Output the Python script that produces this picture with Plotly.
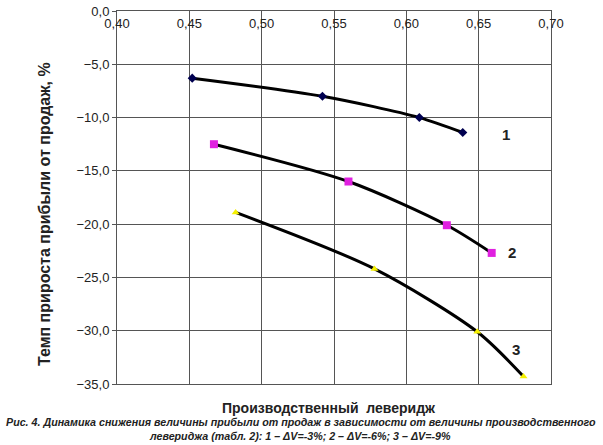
import plotly.graph_objects as go

x1 = [0.452, 0.542, 0.609, 0.639]
y1 = [-6.3, -8.0, -10.0, -11.4]
x2 = [0.467, 0.560, 0.628, 0.659]
y2 = [-12.5, -16.0, -20.1, -22.7]
x3 = [0.482, 0.578, 0.649, 0.681]
y3 = [-18.9, -24.2, -30.1, -34.3]
curve_labels = ["1", "2", "3"]
x_ticks = [0.40, 0.45, 0.50, 0.55, 0.60, 0.65, 0.70]
y_ticks = [0, -5, -10, -15, -20, -25, -30, -35]

series = [
    (x1, y1, "#000050", "diamond", 7),
    (x2, y2, "#e020e0", "square", 8),
    (x3, y3, "#f5f000", "triangle-up", 7),
]

fig = go.Figure()
for xs, ys, col, sym, sz in series:
    fig.add_trace(go.Scatter(x=xs, y=ys, mode="lines", line=dict(color="black", width=3, shape="spline", smoothing=0.8),
                             hoverinfo="skip", showlegend=False))
for xs, ys, col, sym, sz in series:
    fig.add_trace(go.Scatter(x=xs, y=ys, mode="markers", marker=dict(color=col, symbol=sym, size=sz),
                             showlegend=False))

# invisible trace to activate the label axis
fig.add_trace(go.Scatter(x=[x_ticks[0]], y=[y_ticks[0]], xaxis="x2", mode="markers",
                         marker=dict(opacity=0), hoverinfo="skip", showlegend=False))

label_pos = [(0.669, -11.6), (0.673, -22.7), (0.676, -31.8)]
for t, (lx, ly) in zip(curve_labels, label_pos):
    fig.add_annotation(x=lx, y=ly, text="<b>" + t + "</b>", showarrow=False,
                       font=dict(family="Arial, Liberation Sans", size=15, color="#222"))

plot_top, plot_bot = 11, 384
plot_l, plot_r = 117, 551
W, H = 603, 445
def py(Y):
    return (plot_bot - Y) / (plot_bot - plot_top)
def px(X):
    return (X - plot_l) / (plot_r - plot_l)

fig.update_layout(
    width=W, height=H,
    margin=dict(l=plot_l, r=W - plot_r, t=plot_top, b=H - plot_bot, autoexpand=False),
    plot_bgcolor="white", paper_bgcolor="white",
    separators=", ",
    font=dict(family="Arial, Liberation Sans", size=13, color="#222"),
    xaxis=dict(range=[0.40, 0.70], tickvals=x_ticks, showticklabels=False, showgrid=True,
               gridcolor="#555", gridwidth=1, showline=True, linecolor="#555", mirror=True,
               zeroline=False, automargin=False),
    xaxis2=dict(range=[0.40, 0.70], tickvals=x_ticks, tickformat=".2f", overlaying="x", side="top",
                anchor="free", position=py(31), showgrid=False, showline=False, zeroline=False,
                ticks="", tickfont=dict(size=13), automargin=False),
    yaxis=dict(range=[-35, 0], tickvals=y_ticks, tickformat=".1f", showgrid=True, gridcolor="#555",
               gridwidth=1, showline=True, linecolor="#555", mirror=True, zeroline=False,
               ticks="outside", ticklen=4, tickcolor="#555", tickfont=dict(size=13), automargin=False),
)

fig.add_annotation(xref="paper", yref="paper", x=px(45), y=py(214), xanchor="center", yanchor="middle",
                   text="<b>Темп прироста прибыли от продаж, %</b>",
                   textangle=-90, showarrow=False, font=dict(size=16))
fig.add_annotation(xref="paper", yref="paper", x=px(329), y=py(408), yanchor="middle",
                   text="<b>Производственный  леверидж</b>", showarrow=False, font=dict(size=14))
fig.add_annotation(xref="paper", yref="paper", x=px(301), y=py(422), yanchor="middle", xanchor="center",
                   text="<b><i>Рис. 4. Динамика снижения величины прибыли от продаж в зависимости от величины производственного</i></b>",
                   showarrow=False, font=dict(size=10.7))
fig.add_annotation(xref="paper", yref="paper", x=px(300), y=py(436), yanchor="middle",
                   text="<b><i>левериджа (табл. 2): 1 – ΔV=-3%; 2 – ΔV=-6%; 3 – ΔV=-9%</i></b>",
                   showarrow=False, font=dict(size=10.7))

fig.write_html("out.html")
